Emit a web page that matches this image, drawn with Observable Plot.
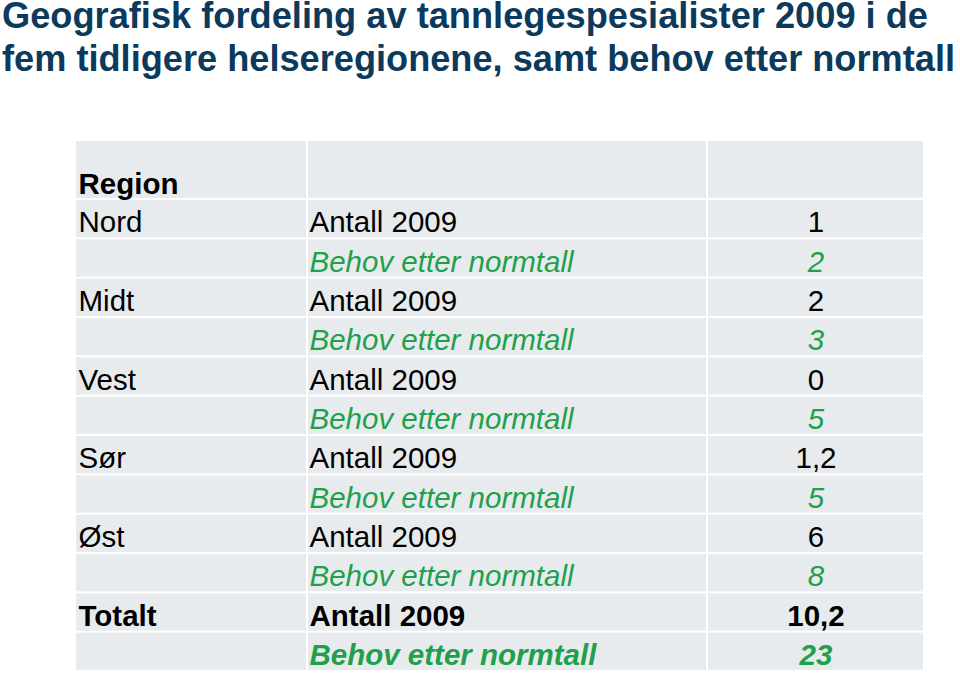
<!DOCTYPE html>
<html>
<head>
<meta charset="utf-8">
<script src="https://cdn.jsdelivr.net/npm/d3@7"></script>
<script src="https://cdn.jsdelivr.net/npm/@observablehq/plot@0.6"></script>
<style>
  body { margin: 0; background: #fff; width: 960px; overflow: hidden; }
  svg { display: block; }
</style>
</head>
<body>
<svg id="title" width="960" height="130" style="font-family:'Liberation Sans',Arial,sans-serif;font-weight:bold;font-size:36px;fill:#0c3a5c">
  <text x="2" y="28" textLength="926" lengthAdjust="spacingAndGlyphs">Geografisk fordeling av tannlegespesialister 2009 i de</text>
  <text x="2" y="71" textLength="953" lengthAdjust="spacingAndGlyphs">fem tidligere helseregionene, samt behov etter normtall</text>
</svg>
<div id="chart"></div>
<script>
// ---- data ----
const headerLabel = "Region";
const regions = ["Nord", "Midt", "Vest", "Sør", "Øst", "Totalt"];
const antall2009 = [1, 2, 0, 1.2, 6, 10.2];
const behovNormtall = [2, 3, 5, 5, 8, 23];
const rowLabels = ["Antall 2009", "Behov etter normtall"];

// ---- layout (not data) ----
const colEdges = [0, 232, 632, 849];
const headerH = 1.5;
const fmt = v => String(v).replace(".", ",");

const rows = [];
regions.forEach((r, i) => {
  const total = r === "Totalt";
  rows.push({row: 2 * i, kind: "antall", region: r, label: rowLabels[0], value: fmt(antall2009[i]), total});
  rows.push({row: 2 * i + 1, kind: "behov", region: "", label: rowLabels[1], value: fmt(behovNormtall[i]), total});
});

const cells = [];
for (let r = -1; r < rows.length; r++) {
  const y1 = r < 0 ? 0 : headerH + r;
  const y2 = r < 0 ? headerH : headerH + r + 1;
  for (let c = 0; c < 3; c++) cells.push({x1: colEdges[c], x2: colEdges[c + 1], y1, y2});
}

const green = "#20a04b";
const yb = d => headerH + d.row + 1;
function txt(data, x, text, opts) {
  return Plot.text(data, Object.assign({x: () => x, y: yb, text, lineAnchor: "bottom", dy: -6.5, fontSize: 29.5}, opts));
}
const antallRows = rows.filter(d => d.kind === "antall");
const behovRows = rows.filter(d => d.kind === "behov");
const colX = [3, 234, (colEdges[2] + colEdges[3]) / 2];

const chart = Plot.plot({
  width: 960,
  height: 545,
  marginLeft: 75,
  marginRight: 36,
  marginTop: 10,
  marginBottom: 4,
  x: {domain: [0, 849], axis: null},
  y: {domain: [0, headerH + rows.length], axis: null, reverse: true},
  style: {fontFamily: "'Liberation Sans', Arial, sans-serif", background: "#fff"},
  marks: [
    Plot.rect(cells, {x1: "x1", x2: "x2", y1: "y1", y2: "y2", fill: "#e8ebee", inset: 1}),
    Plot.text([headerLabel], {x: () => colX[0], y: () => headerH, text: d => d, lineAnchor: "bottom", dy: -6, textAnchor: "start", fontSize: 29.5, fontWeight: "bold", fill: "#000"}),
    // region names
    txt(antallRows.filter(d => !d.total), colX[0], "region", {textAnchor: "start", fill: "#000"}),
    txt(antallRows.filter(d => d.total), colX[0], "region", {textAnchor: "start", fill: "#000", fontWeight: "bold"}),
    // labels
    txt(antallRows.filter(d => !d.total), colX[1], "label", {textAnchor: "start", fill: "#000"}),
    txt(antallRows.filter(d => d.total), colX[1], "label", {textAnchor: "start", fill: "#000", fontWeight: "bold"}),
    txt(behovRows.filter(d => !d.total), colX[1], "label", {textAnchor: "start", fill: green, fontStyle: "italic"}),
    txt(behovRows.filter(d => d.total), colX[1], "label", {textAnchor: "start", fill: green, fontStyle: "italic", fontWeight: "bold"}),
    // values
    txt(antallRows.filter(d => !d.total), colX[2], "value", {textAnchor: "middle", fill: "#000"}),
    txt(antallRows.filter(d => d.total), colX[2], "value", {textAnchor: "middle", fill: "#000", fontWeight: "bold"}),
    txt(behovRows.filter(d => !d.total), colX[2], "value", {textAnchor: "middle", fill: green, fontStyle: "italic"}),
    txt(behovRows.filter(d => d.total), colX[2], "value", {textAnchor: "middle", fill: green, fontStyle: "italic", fontWeight: "bold"})
  ]
});
document.getElementById("chart").appendChild(chart);
</script>
</body>
</html>
